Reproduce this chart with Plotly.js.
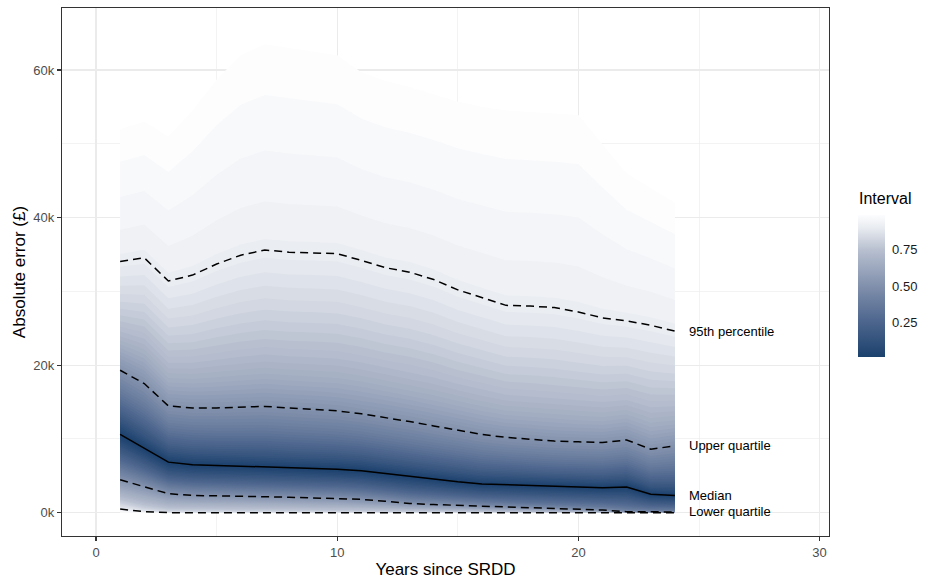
<!DOCTYPE html>
<html>
<head>
<meta charset="utf-8">
<script src="https://cdn.plot.ly/plotly-3.0.1.min.js"></script>
<style>
  html, body { margin: 0; padding: 0; background: #fff; }
  #chart { width: 940px; height: 588px; }
</style>
</head>
<body>
<div id="chart"></div>
<script>
// years since SRDD
const years = [1, 2, 3, 4, 5, 6, 7, 8, 9, 10, 11, 12, 13, 14, 15, 16, 17, 18, 19, 20, 21, 22, 23, 24];

// absolute error (GBP) quantiles per year
const errBottom = [0, 0, 0, 0, 0, 0, 0, 0, 0, 0, 0, 0, 0, 0, 0, 0, 0, 0, 0, 0, 0, 0, 0, 0];
const errP05 = [500, 130, 0, 0, 0, 0, 0, 0, 0, 0, 0, 0, 0, 0, 0, 0, 0, 0, 0, 0, 0, 0, 0, 0];
const errLQ = [4460, 3560, 2570, 2340, 2300, 2250, 2200, 2100, 2000, 1940, 1800, 1550, 1260, 1100, 1000, 850, 720, 600, 500, 450, 360, 130, 100, 100];
const errMedian = [10600, 8700, 6850, 6500, 6400, 6350, 6260, 6100, 6000, 5900, 5700, 5300, 4900, 4550, 4200, 3900, 3800, 3650, 3550, 3470, 3380, 3470, 2500, 2340];
const errUQ = [19300, 17500, 14460, 14200, 14200, 14300, 14400, 14200, 14050, 13800, 13400, 12900, 12350, 11760, 11200, 10600, 10200, 9950, 9700, 9600, 9500, 9860, 8600, 9050];
const errP95 = [34050, 34550, 31400, 32200, 33700, 34900, 35600, 35300, 35200, 35100, 34200, 33200, 32600, 31600, 30200, 29200, 28100, 28000, 27800, 27200, 26400, 26000, 25400, 24600];
const errTop = [52000, 53000, 51000, 54500, 58700, 62000, 63500, 63000, 62500, 62000, 59700, 58500, 57700, 56700, 55700, 55000, 54500, 54300, 54100, 53900, 49900, 46000, 44000, 42000];

const quantProbs = [0.005, 0.05, 0.25, 0.5, 0.75, 0.95, 0.995];
const quantCols = [errBottom, errP05, errLQ, errMedian, errUQ, errP95, errTop];

const lineLabels = ['95th percentile', 'Upper quartile', 'Median', 'Lower quartile'];
const lineLabelCols = [errP95, errUQ, errMedian, errLQ];

const yTickVals = [0, 20000, 40000, 60000];
const yTickText = ['0k', '20k', '40k', '60k'];
const barTickVals = [0.25, 0.5, 0.75];
const barTickText = ['0.25', '0.50', '0.75'];

// 50 central intervals, like ppoints(50)
const nLevels = 50;
const levels = [];
for (let k = 1; k <= nLevels; k++) levels.push((k - 0.5) / nLevels);

// navy -> white ramp
const rampStops = [
    [0.01, [27, 65, 109]],
    [0.25, [76, 101, 141]],
    [0.50, [129, 144, 172]],
    [0.75, [184, 192, 208]],
    [0.90, [232, 235, 240]],
    [0.99, [253, 253, 254]]
];

function rampColor(v) {
    for (let i = 0; i < rampStops.length - 1; i++) {
        const a = rampStops[i], b = rampStops[i + 1];
        if (v <= b[0] || i === rampStops.length - 2) {
            const t = Math.max(0, Math.min(1, (v - a[0]) / (b[0] - a[0])));
            const c = a[1].map((ch, j) => Math.round(ch + t * (b[1][j] - ch)));
            return `rgb(${c[0]},${c[1]},${c[2]})`;
        }
    }
}

// monotone (Fritsch-Carlson) curve through the read quantiles of one year
function quantileAt(i, p) {
    const xs = quantProbs, ys = quantCols.map(col => col[i]);
    const n = xs.length;
    const h = [], d = [];
    for (let k = 0; k < n - 1; k++) {
        h.push(xs[k + 1] - xs[k]);
        d.push((ys[k + 1] - ys[k]) / h[k]);
    }
    const m = [d[0]];
    for (let k = 1; k < n - 1; k++) {
        if (d[k - 1] * d[k] <= 0) { m.push(0); continue; }
        const w1 = 2 * h[k] + h[k - 1], w2 = h[k] + 2 * h[k - 1];
        m.push((w1 + w2) / (w1 / d[k - 1] + w2 / d[k]));
    }
    m.push(d[n - 2]);
    if (p <= xs[0]) return ys[0];
    if (p >= xs[n - 1]) return ys[n - 1];
    let k = 0;
    while (p > xs[k + 1]) k++;
    const t = (p - xs[k]) / h[k];
    const t2 = t * t, t3 = t2 * t;
    return (2 * t3 - 3 * t2 + 1) * ys[k] + (t3 - 2 * t2 + t) * h[k] * m[k]
         + (-2 * t3 + 3 * t2) * ys[k + 1] + (t3 - t2) * h[k] * m[k + 1];
}

const traces = [];

// ribbons, widest (lightest) first
levels.slice().reverse().forEach(w => {
    const up = years.map((_, i) => quantileAt(i, 0.5 + w / 2));
    const lo = years.map((_, i) => quantileAt(i, 0.5 - w / 2));
    traces.push({
        x: years.concat(years.slice().reverse()),
        y: up.concat(lo.slice().reverse()),
        type: 'scatter', mode: 'lines',
        fill: 'toself', fillcolor: rampColor(w),
        line: { width: 0 }, hoverinfo: 'skip'
    });
});

// quantile lines
const dashStyle = '8px,5px';
[[errP05, dashStyle], [errLQ, dashStyle], [errMedian, 'solid'], [errUQ, dashStyle], [errP95, dashStyle]].forEach(([ys, dash]) => {
    traces.push({
        x: years, y: ys, type: 'scatter', mode: 'lines',
        line: { color: '#000', width: 1.5, dash: dash }, hoverinfo: 'skip'
    });
});

// colour bar only
const barScale = rampStops.map(s => [(s[0] - 0.01) / 0.98, `rgb(${s[1].join(',')})`]);
traces.push({
    x: [-5, -5], y: [-20000, -20000], type: 'scatter', mode: 'markers',
    hoverinfo: 'skip',
    marker: {
        color: [0.01, 0.99], cmin: 0.01, cmax: 0.99, colorscale: barScale, opacity: 0,
        showscale: true,
        colorbar: {
            thickness: 27, thicknessmode: 'pixels', len: 142, lenmode: 'pixels',
            x: 1.038, xanchor: 'left', y: 0.4735, yanchor: 'middle',
            xpad: 0, ypad: 0, outlinewidth: 0,
            tickmode: 'array', tickvals: barTickVals, ticktext: barTickText,
            ticks: 'outside', ticklen: 5, tickcolor: 'rgba(255,255,255,0)', tickwidth: 1,
            tickfont: { size: 13, color: '#1a1a1a' }
        }
    }
});

const annotations = lineLabels.map((txt, i) => ({
    x: 24.5, y: lineLabelCols[i][lineLabelCols[i].length - 1],
    text: txt, showarrow: false, xanchor: 'left', yanchor: 'middle',
    font: { size: 13, color: '#000' }
}));
annotations.push({
    xref: 'paper', yref: 'paper', x: 1.0365, y: 0.640,
    text: 'Interval', showarrow: false, xanchor: 'left', yanchor: 'middle',
    font: { size: 16, color: '#000' }
});

const layout = {
    width: 940, height: 588,
    margin: { l: 62, r: 111, t: 8, b: 52 },
    paper_bgcolor: '#fff', plot_bgcolor: '#fff',
    font: { family: 'Liberation Sans, Arial, sans-serif', size: 13, color: '#4d4d4d' },
    showlegend: false,
    annotations: annotations,
    xaxis: {
        range: [-1.41, 30.39], tickmode: 'array', tickvals: [0, 10, 20, 30],
        ticks: 'outside', ticklen: 4, tickcolor: '#333', tickwidth: 1.1,
        tickfont: { size: 13, color: '#4d4d4d' },
        showgrid: true, gridcolor: '#ebebeb', gridwidth: 1.1,
        minor: { dtick: 5, tick0: 0, showgrid: true, gridcolor: '#ebebeb', gridwidth: 0.6, ticks: '' },
        zeroline: false, showline: true, mirror: true, linecolor: '#333', linewidth: 1.1,
        title: { text: 'Years since SRDD', font: { size: 17, color: '#000' }, standoff: 4 }
    },
    yaxis: {
        range: [-3160, 68400], tickmode: 'array', tickvals: yTickVals, ticktext: yTickText,
        ticks: 'outside', ticklen: 4, tickcolor: '#333', tickwidth: 1.1,
        tickfont: { size: 13, color: '#4d4d4d' },
        showgrid: true, gridcolor: '#ebebeb', gridwidth: 1.1,
        minor: { dtick: 10000, tick0: 0, showgrid: true, gridcolor: '#ebebeb', gridwidth: 0.6, ticks: '' },
        zeroline: false, showline: true, mirror: true, linecolor: '#333', linewidth: 1.1,
        title: { text: 'Absolute error (£)', font: { size: 17, color: '#000' }, standoff: 3 }
    }
};

Plotly.newPlot('chart', traces, layout, { displayModeBar: false, staticPlot: true });
</script>
</body>
</html>
